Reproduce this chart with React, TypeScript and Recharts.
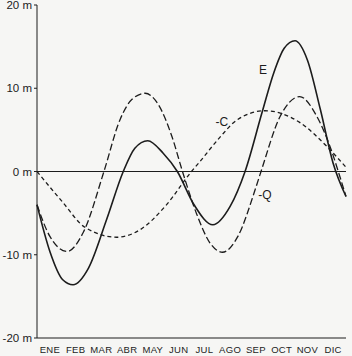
import React from 'react';
import {
  LineChart,
  Line,
  XAxis,
  YAxis,
  ReferenceLine,
  ReferenceDot,
} from 'recharts';

const months = ['ENE', 'FEB', 'MAR', 'ABR', 'MAY', 'JUN', 'JUL', 'AGO', 'SEP', 'OCT', 'NOV', 'DIC'];
const monthCentres = [0.5, 1.5, 2.5, 3.5, 4.5, 5.5, 6.5, 7.5, 8.5, 9.5, 10.5, 11.5];
const monthBounds = [1, 2, 3, 4, 5, 6, 7, 8, 9, 10, 11];
const yTicks = [-20, -10, 0, 10, 20];
const yMinorTicks = [-15, -10, -5, 0, 5, 10, 15];

// E (solid)
const eTimes = [0, 0.5, 1.0, 1.4, 2.0, 2.7, 3.35, 3.8, 4.3, 4.9, 5.45, 6.1, 6.83, 7.5, 8.08, 8.75, 9.2, 9.6, 10.02, 10.5, 11.0, 11.5, 12];
const eValues = [-4.0, -9.6, -13.0, -13.6, -11.6, -5.8, 0, 2.8, 3.7, 2.2, 0, -4.0, -6.4, -4.2, 0, 7.2, 11.9, 14.8, 15.7, 13.4, 7.5, 1.0, -3.0];

// -Q (long dashes)
const qTimes = [0, 0.5, 1.17, 1.8, 2.6, 3.22, 3.7, 4.2, 4.7, 5.24, 5.65, 6.2, 6.7, 7.2, 7.8, 8.47, 8.7, 9.44, 10.2, 10.87, 11.46, 11.7, 12];
const qValues = [-4.0, -7.8, -9.6, -7.3, 0, 6.2, 8.7, 9.4, 8.1, 4.2, 0, -5.1, -8.5, -9.7, -7.8, -2.2, 0, 6.6, 9.0, 6.6, 2.3, 0, -3.0];

// -C (short dashes)
const cTimes = [0, 1.0, 1.86, 3.1, 4.0, 5.0, 6.0, 6.33, 7.1, 7.77, 8.85, 10.2, 11.26, 12];
const cValues = [0, -3.7, -6.7, -7.9, -7.0, -4.1, 0, 1.2, 4.1, 6.2, 7.3, 5.9, 3.0, 0.5];

const toPoints = (ts: number[], vs: number[]) => ts.map((t, i) => ({ t, v: vs[i] }));

const ink = '#1c1c1c';
const font = '"Liberation Sans", Arial, sans-serif';

const YTick = (props: any) => {
  const { x, y, payload } = props;
  return (
    <text x={x} y={y} dy={4} textAnchor="end" fontSize={11.5} fill={ink} fontFamily={font}>
      {`${payload.value} m`}
    </text>
  );
};

const MonthTick = (props: any) => {
  const { x, y, payload } = props;
  return (
    <text x={x} y={y} dy={9} textAnchor="middle" fontSize={9.5} fill={ink} fontFamily={font} letterSpacing={0.3}>
      {months[Math.round(payload.value - 0.5)]}
    </text>
  );
};

const curveLabel = (text: string) => (props: any) => {
  const { viewBox } = props;
  return (
    <text x={viewBox.x} y={viewBox.y} dy={4} textAnchor="middle" fontSize={12} fill={ink} fontFamily={font}>
      {text}
    </text>
  );
};

export default function App() {
  return (
    <div style={{ position: 'absolute', left: 0, top: 0, background: '#f6f6f4' }}>
      <LineChart width={352} height={356} margin={{ top: 5, right: 6, bottom: 0, left: 0 }}>
        <XAxis
          xAxisId="m"
          type="number"
          dataKey="t"
          domain={[0, 12]}
          ticks={monthCentres}
          tickLine={false}
          tickSize={4}
          tickMargin={2}
          height={18}
          stroke={ink}
          tick={<MonthTick />}
          interval={0}
          allowDecimals
        />
        <XAxis
          xAxisId="b"
          type="number"
          domain={[0, 12]}
          ticks={monthBounds}
          tick={false}
          axisLine={false}
          tickSize={4}
          mirror
          height={0}
          stroke={ink}
        />
        <XAxis
          xAxisId="top"
          orientation="top"
          type="number"
          domain={[0, 12]}
          ticks={[]}
          tick={false}
          tickLine={false}
          mirror
          height={0}
          stroke={ink}
        />
        <YAxis
          yAxisId="v"
          type="number"
          domain={[-20, 20]}
          ticks={yTicks}
          tickSize={3}
          tickMargin={2}
          width={37}
          stroke={ink}
          tick={<YTick />}
          interval={0}
        />
        <YAxis
          yAxisId="li"
          type="number"
          domain={[-20, 20]}
          ticks={yMinorTicks}
          tick={false}
          axisLine={false}
          tickSize={4}
          mirror
          width={0}
          stroke={ink}
        />
        <YAxis
          yAxisId="r"
          orientation="right"
          type="number"
          domain={[-20, 20]}
          ticks={yMinorTicks}
          tick={false}
          tickSize={4}
          mirror
          width={0}
          stroke={ink}
        />
        <ReferenceLine xAxisId="m" yAxisId="v" y={0} stroke={ink} strokeWidth={1} />
        <Line
          xAxisId="m"
          yAxisId="v"
          data={toPoints(cTimes, cValues)}
          dataKey="v"
          type="monotone"
          stroke={ink}
          strokeWidth={1.3}
          strokeDasharray="4 3"
          dot={false}
          isAnimationActive={false}
        />
        <Line
          xAxisId="m"
          yAxisId="v"
          data={toPoints(qTimes, qValues)}
          dataKey="v"
          type="monotone"
          stroke={ink}
          strokeWidth={1.3}
          strokeDasharray="7 3"
          dot={false}
          isAnimationActive={false}
        />
        <Line
          xAxisId="m"
          yAxisId="v"
          data={toPoints(eTimes, eValues)}
          dataKey="v"
          type="monotone"
          stroke={ink}
          strokeWidth={1.6}
          dot={false}
          isAnimationActive={false}
        />
        <ReferenceDot xAxisId="m" yAxisId="v" x={8.78} y={12.2} r={0} label={curveLabel('E')} />
        <ReferenceDot xAxisId="m" yAxisId="v" x={7.18} y={5.9} r={0} label={curveLabel('-C')} />
        <ReferenceDot xAxisId="m" yAxisId="v" x={8.85} y={-2.8} r={0} label={curveLabel('-Q')} />
      </LineChart>
    </div>
  );
}
